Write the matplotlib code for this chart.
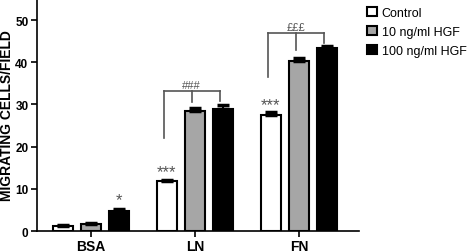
import matplotlib.pyplot as plt
import numpy as np

plt.rcParams['font.family'] = ['Liberation Sans', 'DejaVu Sans']

# ---------- data ----------
categories = ['BSA', 'LN', 'FN']
series = ['Control', '10 ng/ml HGF', '100 ng/ml HGF']
control = [1.3, 11.9, 27.6]
hgf10 = [1.7, 28.5, 40.4]
hgf100 = [4.7, 28.9, 43.3]
control_err = [0.2, 0.3, 0.5]
hgf10_err = [0.1, 0.6, 0.5]
hgf100_err = [0.4, 0.9, 0.5]

colors = ['white', '#a6a6a6', 'black']

fig = plt.figure(figsize=(4.72, 2.53), dpi=100)
ax = fig.add_axes([0.078, 0.083, 0.683, 0.917])

x = np.arange(len(categories))
width = 0.19
offsets = [-0.27, 0, 0.27]
values = [control, hgf10, hgf100]
errs = [control_err, hgf10_err, hgf100_err]

for vals, err, col, off, lab in zip(values, errs, colors, offsets, series):
    ax.bar(x + off, vals, width, color=col, edgecolor='black', linewidth=1.5, label=lab)
    ax.errorbar(x + off, vals, yerr=[np.zeros(3), err], fmt='none', ecolor='black',
                elinewidth=1.5, capsize=4, capthick=2.5)

# significance marks
star_col = '#555555'
ax.text(x[0] + offsets[2], hgf100[0] + hgf100_err[0] + 0.5, '*', ha='center', va='bottom',
        fontsize=12, color=star_col)
ax.text(x[1] + offsets[0], control[1] + 0.5, '***', ha='center', va='bottom', fontsize=12, color=star_col)
ax.text(x[2] + offsets[0], control[2] + 0.5, '***', ha='center', va='bottom', fontsize=12, color=star_col)

# brackets
def bracket(xc, top, ends, label):
    xs = [xc + o for o in offsets]
    ax.plot([xs[0], xs[2]], [top, top], color='#555555', lw=1.2)
    for xx, e in zip(xs, ends):
        ax.plot([xx, xx], [e, top], color='#555555', lw=1.2)
    ax.text((xs[0] + xs[2]) / 2 + 0.0, top + 0.3, label, ha='center', va='bottom',
            fontsize=8, color='#555555')

bracket(x[1] - 0.03, 33.1, [22.1, 30.7, 30.9], '###')
bracket(x[2] - 0.03, 46.9, [36.4, 42.9, 44.5], '£££')

ax.set_xlim(-0.52, 2.58)
ax.set_ylim(0, 55)
ax.set_yticks([0, 10, 20, 30, 40, 50])
ax.set_xticks(x)
ax.set_xticklabels(categories, fontsize=10, fontweight='bold')
for t in ax.get_yticklabels():
    t.set_fontweight('bold')
    t.set_fontsize(8.5)
ax.set_ylabel('MIGRATING CELLS/FIELD', fontsize=10, fontweight='bold')
ax.yaxis.set_label_coords(-0.07, 0.5)

ax.spines['top'].set_visible(False)
ax.spines['right'].set_visible(False)
ax.spines['left'].set_linewidth(1.2)
ax.spines['bottom'].set_linewidth(1.2)
ax.tick_params(axis='both', width=1.2, length=4, pad=2)

ax.legend(loc='upper left', bbox_to_anchor=(1.0, 1.0), frameon=False, fontsize=9,
          handlelength=0.8, handleheight=0.8, handletextpad=0.4, labelspacing=0.55,
          borderaxespad=0.2)

fig.savefig('out.png', dpi=100)
